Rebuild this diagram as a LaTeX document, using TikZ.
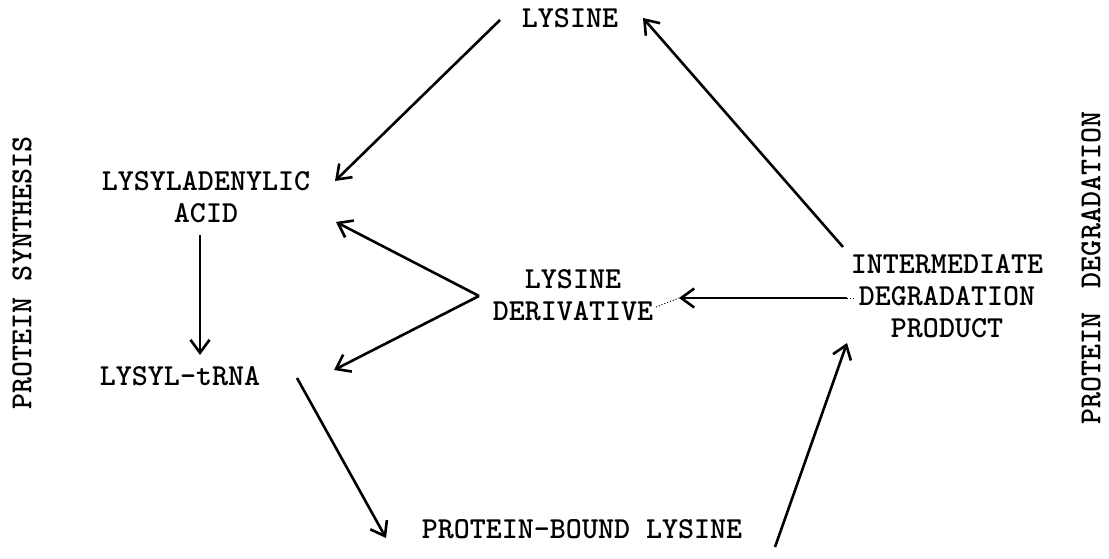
\documentclass[tikz,border=0pt]{standalone}
\usetikzlibrary{arrows.meta,calc}
\begin{document}
\begin{tikzpicture}[x=1pt,y=-1pt,
  lbl/.style={inner sep=0pt, align=center, font=\fontsize{30.5}{32}\selectfont\ttfamily\bfseries},
  side/.style={lbl, rotate=90},
  flow/.style={line width=2.6pt, -{Straight Barb[length=13pt,width=19pt]}},
  dotlink/.style={line width=1pt, dotted}]
\fill[white] (0,0) rectangle (1109,559);
\useasboundingbox (0,0) rectangle (1109,559);

% compounds
\node[lbl] (lys)  at (570,18)    {LYSINE};
\node[lbl] (lad)  at (206,197.5) {LYSYLADENYLIC\\ACID};
\node[lbl] (trna) at (180,376)   {LYSYL-tRNA};
\node[lbl] (der)  at (573,295.5) {LYSINE\\DERIVATIVE};
\node[lbl] (idp)  at (947,296)   {INTERMEDIATE\\DEGRADATION\\PRODUCT};
\node[lbl] (pbl)  at (582,529)   {PROTEIN-BOUND LYSINE};

% side captions
\node[side] (ps) at (22,273)   {PROTEIN SYNTHESIS};
\node[side] (pd) at (1091,268) {PROTEIN\hspace{8pt} DEGRADATION};

% synthesis branch
\draw[flow] ($(lys)+(-70,2)$)   -- ($(lad)+(129,-16.5)$);
\draw[flow] ($(lad)+(-6,37.5)$) -- ($(trna)+(20,-21)$);
\draw[flow] ($(trna)+(117,2)$)  -- ($(pbl)+(-196,9)$);

% degradation branch
\draw[flow] ($(pbl)+(193,18)$)  -- ($(idp)+(-100,47)$);
\draw[flow] ($(idp)+(-104,-49)$) -- ($(lys)+(73,0)$);
\draw[flow] ($(idp)+(-100,2)$)  -- ($(der)+(106,2.5)$);
\draw[dotlink] ($(idp)+(-100,2)$) -- ($(idp)+(-92,2)$);
\draw[dotlink] ($(der)+(83,11.5)$) -- ($(der)+(106,2.5)$);

% lysine derivative feeding back into synthesis
\coordinate (apex) at ($(der)+(-94,0.5)$);
\draw[flow] (apex) -- ($(lad)+(130,24.5)$);
\draw[flow] (apex) -- ($(trna)+(154,-6)$);
\end{tikzpicture}
\end{document}
